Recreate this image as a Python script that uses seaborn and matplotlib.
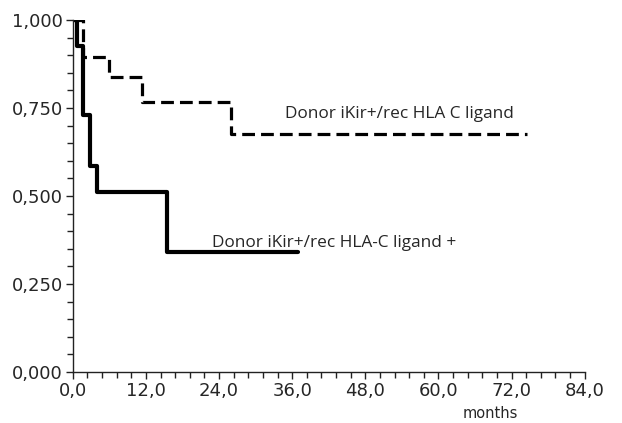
import matplotlib
matplotlib.use('Agg')
import matplotlib.pyplot as plt
import seaborn as sns
import numpy as np
import pandas as pd
from matplotlib.ticker import MultipleLocator, FuncFormatter

# Curvas de supervivencia (Kaplan-Meier)
neg_months = [0.0, 1.7, 6.0, 11.3, 26.0, 74.5]
neg_surv = [1.000, 0.895, 0.838, 0.767, 0.675, 0.675]

pos_months = [0.0, 0.7, 1.7, 2.8, 3.9, 15.4, 37.0]
pos_surv = [1.000, 0.925, 0.730, 0.585, 0.511, 0.340, 0.340]

label_neg = 'Donor iKir+/rec HLA C ligand'
label_pos = 'Donor iKir+/rec HLA-C ligand +'

sns.set_style('white')
plt.rcParams['font.family'] = ['DejaVu Sans']

df_neg = pd.DataFrame({'months': neg_months, 'surv': neg_surv})
df_pos = pd.DataFrame({'months': pos_months, 'surv': pos_surv})

fig = plt.figure(figsize=(6.22, 4.23), dpi=100)
ax = fig.add_axes([0.117, 0.1206, 0.823, 0.832])

sns.lineplot(data=df_neg, x='months', y='surv', ax=ax, color='black',
             linewidth=2.3, linestyle=(0, (4.0, 1.9)), drawstyle='steps-post')
sns.lineplot(data=df_pos, x='months', y='surv', ax=ax, color='black',
             linewidth=3.0, drawstyle='steps-post')

ax.set_xlim(0, 84)
ax.set_ylim(0, 1.0)
ax.xaxis.set_major_locator(MultipleLocator(12))
ax.xaxis.set_minor_locator(MultipleLocator(2.4))
ax.yaxis.set_major_locator(MultipleLocator(0.25))
ax.yaxis.set_minor_locator(MultipleLocator(0.05))
ax.xaxis.set_major_formatter(FuncFormatter(lambda v, p: f'{v:.1f}'.replace('.', ',')))
ax.yaxis.set_major_formatter(FuncFormatter(lambda v, p: f'{v:.3f}'.replace('.', ',')))

for side in ['top', 'right']:
    ax.spines[side].set_visible(False)
for side in ['left', 'bottom']:
    ax.spines[side].set_color('#222222')
    ax.spines[side].set_linewidth(1.0)

ax.tick_params(which='both', direction='out', color='#222222', width=1.0,
               left=True, bottom=True)
ax.tick_params(which='major', length=5, labelsize=13, pad=2)
ax.tick_params(which='minor', length=4)
ax.set_xlabel('')
ax.set_ylabel('')

ax.text(34.8, 0.733, label_neg, fontsize=12.4, family=['Open Sans', 'DejaVu Sans'],
        va='center', ha='left')
ax.text(22.8, 0.366, label_pos, fontsize=12.4, family=['Open Sans', 'DejaVu Sans'],
        va='center', ha='left')
fig.text(0.788, 0.004, 'months', fontsize=10.5, ha='center', va='bottom')

fig.savefig('out.png', dpi=100)
